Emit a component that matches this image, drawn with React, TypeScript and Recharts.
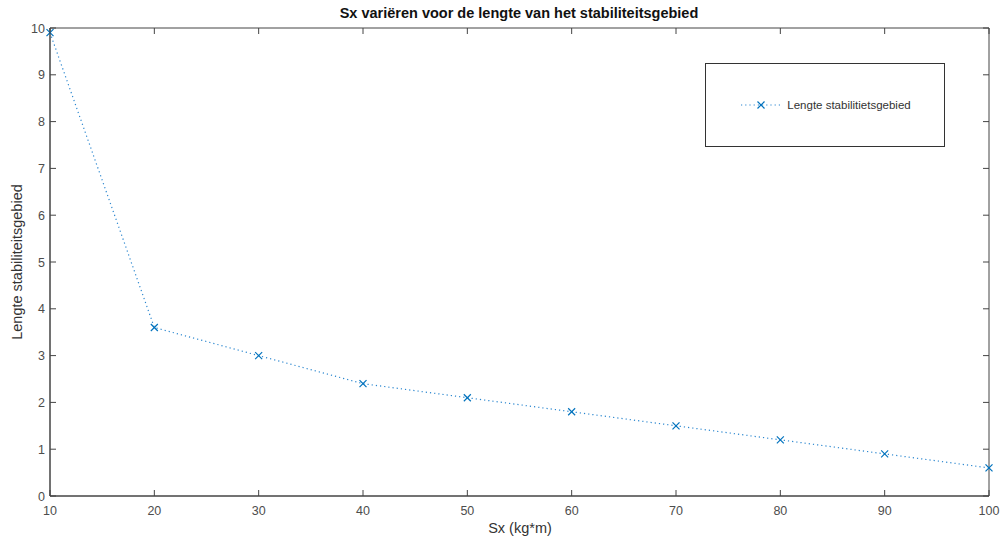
import React from "react";
import { LineChart, Line, XAxis, YAxis, ReferenceArea } from "recharts";

const sxValues = [10, 20, 30, 40, 50, 60, 70, 80, 90, 100];
const lengteValues = [9.9, 3.6, 3.0, 2.4, 2.1, 1.8, 1.5, 1.2, 0.9, 0.6];
const xTicks = [10, 20, 30, 40, 50, 60, 70, 80, 90, 100];
const yTicks = [0, 1, 2, 3, 4, 5, 6, 7, 8, 9, 10];

const data = sxValues.map((x, i) => ({ x, y: lengteValues[i] }));

const BLUE = "#0072BD";
const LINE_BLUE = "#2a86cf";
const AXIS = "#444";
const FONT = "'Liberation Sans', Arial, Helvetica, sans-serif";
const PLOT_TOP = 28;
const PLOT_RIGHT = 989;
const TICK_LEN = 6;

const CrossDot = (props: any) => {
  const { cx, cy } = props;
  if (cx == null || cy == null) return null;
  const s = 3.5;
  return (
    <g>
      <line x1={cx - s} y1={cy - s} x2={cx + s} y2={cy + s} stroke={BLUE} strokeWidth={1.2} />
      <line x1={cx - s} y1={cy + s} x2={cx + s} y2={cy - s} stroke={BLUE} strokeWidth={1.2} />
    </g>
  );
};

// bottom ticks: inward tick on bottom and top edge + label
const XTick = (props: any) => {
  const { x, y, payload } = props;
  return (
    <g>
      <line x1={x} y1={y} x2={x} y2={y - TICK_LEN} stroke={AXIS} />
      <line x1={x} y1={PLOT_TOP} x2={x} y2={PLOT_TOP + TICK_LEN} stroke={AXIS} />
      <text x={x} y={y + 19} textAnchor="middle" fill="#4d4d4d" fontSize={12.5} fontFamily={FONT}>
        {payload.value}
      </text>
    </g>
  );
};

// left ticks: inward tick on left and right edge + label
const YTick = (props: any) => {
  const { x, y, payload } = props;
  return (
    <g>
      <line x1={x} y1={y} x2={x + TICK_LEN} y2={y} stroke={AXIS} />
      <line x1={PLOT_RIGHT} y1={y} x2={PLOT_RIGHT - TICK_LEN} y2={y} stroke={AXIS} />
      <text x={x - 5} y={y + 4.5} textAnchor="end" fill="#4d4d4d" fontSize={12.5} fontFamily={FONT}>
        {payload.value}
      </text>
    </g>
  );
};

export default function App() {
  return (
    <div style={{ position: "absolute", left: 0, top: 0, width: 1004, height: 541, background: "#fff" }}>
      <LineChart
        width={1004}
        height={541}
        data={data}
        margin={{ top: PLOT_TOP, right: 1004 - PLOT_RIGHT, bottom: 15, left: 0 }}
      >
        <text
          x={519}
          y={18}
          textAnchor="middle"
          style={{ fontFamily: FONT, fontSize: 14.5, fontWeight: "bold", fill: "#111" }}
        >
          Sx variëren voor de lengte van het stabiliteitsgebied
        </text>
        <text
          x={520}
          y={533}
          textAnchor="middle"
          style={{ fontFamily: FONT, fontSize: 14.5, fill: "#333" }}
        >
          Sx (kg*m)
        </text>
        <text
          x={22}
          y={262}
          textAnchor="middle"
          transform="rotate(-90 22 262)"
          style={{ fontFamily: FONT, fontSize: 14.5, fill: "#333" }}
        >
          Lengte stabiliteitsgebied
        </text>
        <ReferenceArea
          x1={10}
          x2={100}
          y1={0}
          y2={10}
          fill="none"
          stroke={AXIS}
          strokeWidth={1}
          ifOverflow="visible"
        />
        <XAxis
          dataKey="x"
          type="number"
          domain={[10, 100]}
          ticks={xTicks}
          height={30}
          stroke={AXIS}
          tickLine={false}
          tickSize={0}
          tickMargin={0}
          tick={<XTick />}
          interval={0}
        />
        <YAxis
          type="number"
          domain={[0, 10]}
          ticks={yTicks}
          width={50}
          stroke={AXIS}
          tickLine={false}
          tickSize={0}
          tickMargin={0}
          tick={<YTick />}
          interval={0}
        />
        <Line
          type="linear"
          dataKey="y"
          stroke={LINE_BLUE}
          strokeWidth={1.2}
          strokeDasharray="1.2 3"
          dot={<CrossDot />}
          activeDot={false}
          isAnimationActive={false}
        />
      </LineChart>
      <div
        style={{
          position: "absolute",
          left: 705,
          top: 63,
          width: 240,
          height: 84,
          border: "1px solid #333",
          background: "#fff",
          display: "flex",
          alignItems: "center",
          justifyContent: "center",
          fontFamily: FONT,
          fontSize: 11.5,
          color: "#333",
          boxSizing: "border-box",
        }}
      >
        <svg width={44} height={10} style={{ marginRight: 4 }}>
          <line x1={2} y1={5} x2={42} y2={5} stroke={LINE_BLUE} strokeWidth={1.2} strokeDasharray="1.2 3" />
          <line x1={18.5} y1={1.5} x2={25.5} y2={8.5} stroke={BLUE} strokeWidth={1.2} />
          <line x1={18.5} y1={8.5} x2={25.5} y2={1.5} stroke={BLUE} strokeWidth={1.2} />
        </svg>
        <span>Lengte stabilitietsgebied</span>
      </div>
    </div>
  );
}
